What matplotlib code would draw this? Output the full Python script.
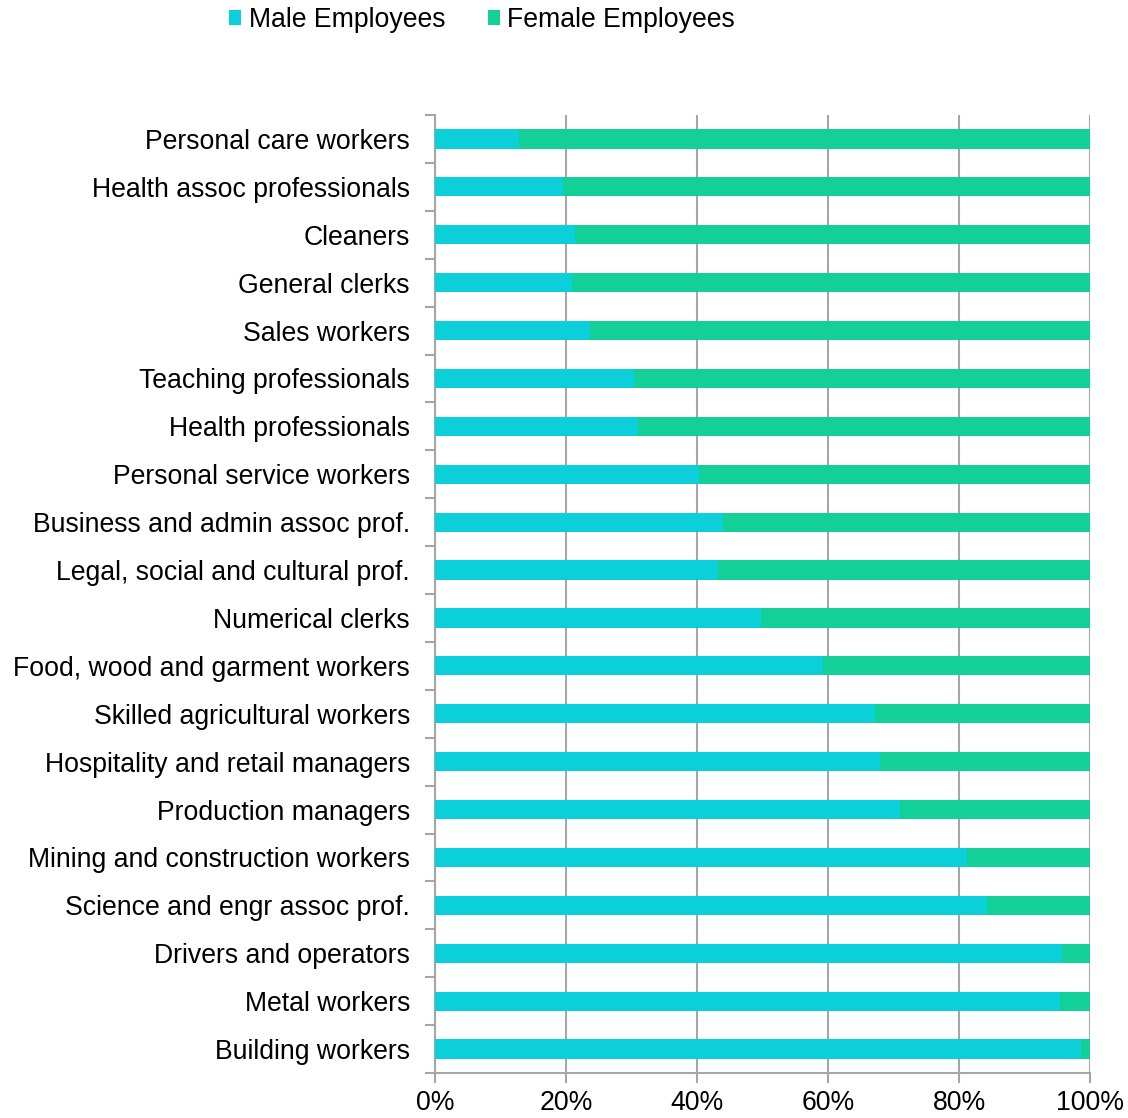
import matplotlib
matplotlib.use("Agg")
import matplotlib.pyplot as plt
from matplotlib.ticker import FixedLocator, PercentFormatter

plt.rcParams['font.family'] = ['Liberation Sans', 'DejaVu Sans']

occupations = [
    "Personal care workers",
    "Health assoc professionals",
    "Cleaners",
    "General clerks",
    "Sales workers",
    "Teaching professionals",
    "Health professionals",
    "Personal service workers",
    "Business and admin assoc prof.",
    "Legal, social and cultural prof.",
    "Numerical clerks",
    "Food, wood and garment workers",
    "Skilled agricultural workers",
    "Hospitality and retail managers",
    "Production managers",
    "Mining and construction workers",
    "Science and engr assoc prof.",
    "Drivers and operators",
    "Metal workers",
    "Building workers",
]
male_pct = [12.9, 19.6, 21.4, 20.9, 23.6, 30.4, 31.0, 40.3, 43.9, 43.2,
            49.8, 59.3, 67.2, 67.9, 71.0, 81.2, 84.3, 95.7, 95.4, 98.6]
female_pct = [100 - m for m in male_pct]

MALE_COLOR = "#0bd0d9"
FEMALE_COLOR = "#13cf98"
GRID_COLOR = "#a6a6a6"
FS = 19.2

fig = plt.figure(figsize=(11.28, 11.18), dpi=100)
ax = fig.add_axes([435 / 1128, 1 - 1073 / 1118, 655 / 1128, (1073 - 115) / 1118])

ypos = list(range(len(occupations)))
ax.barh(ypos, male_pct, height=0.4, color=MALE_COLOR, label="Male Employees", zorder=3)
ax.barh(ypos, female_pct, left=male_pct, height=0.4, color=FEMALE_COLOR,
        label="Female Employees", zorder=3)

ax.set_xlim(0, 100)
ax.set_ylim(len(occupations) - 0.5, -0.5)

ax.set_xticks([0, 20, 40, 60, 80, 100])
ax.xaxis.set_major_formatter(PercentFormatter(decimals=0))
ax.grid(axis="x", color=GRID_COLOR, linewidth=1.5, zorder=0)
ax.set_axisbelow(True)

ax.set_yticks(ypos)
ax.set_yticklabels(occupations)
ax.yaxis.set_minor_locator(FixedLocator([i - 0.5 for i in range(len(occupations) + 1)]))
ax.tick_params(axis="y", which="major", length=0, pad=18, labelsize=FS)
ax.tick_params(axis="y", which="minor", length=7, width=1.5, color=GRID_COLOR)
ax.tick_params(axis="x", which="major", length=7, width=1.5, color=GRID_COLOR,
               pad=5, labelsize=FS)

for side in ("top", "right"):
    ax.spines[side].set_visible(False)
for side in ("left", "bottom"):
    ax.spines[side].set_color(GRID_COLOR)
    ax.spines[side].set_linewidth(1.5)

fig.legend(loc="center", bbox_to_anchor=(482 / 1128, 1 - 20 / 1118), ncol=2,
           frameon=False, fontsize=FS, handlelength=0.45, handleheight=0.5,
           handletextpad=0.28, columnspacing=1.6, borderaxespad=0.0, borderpad=0.0)

fig.savefig("out.png", dpi=100)
